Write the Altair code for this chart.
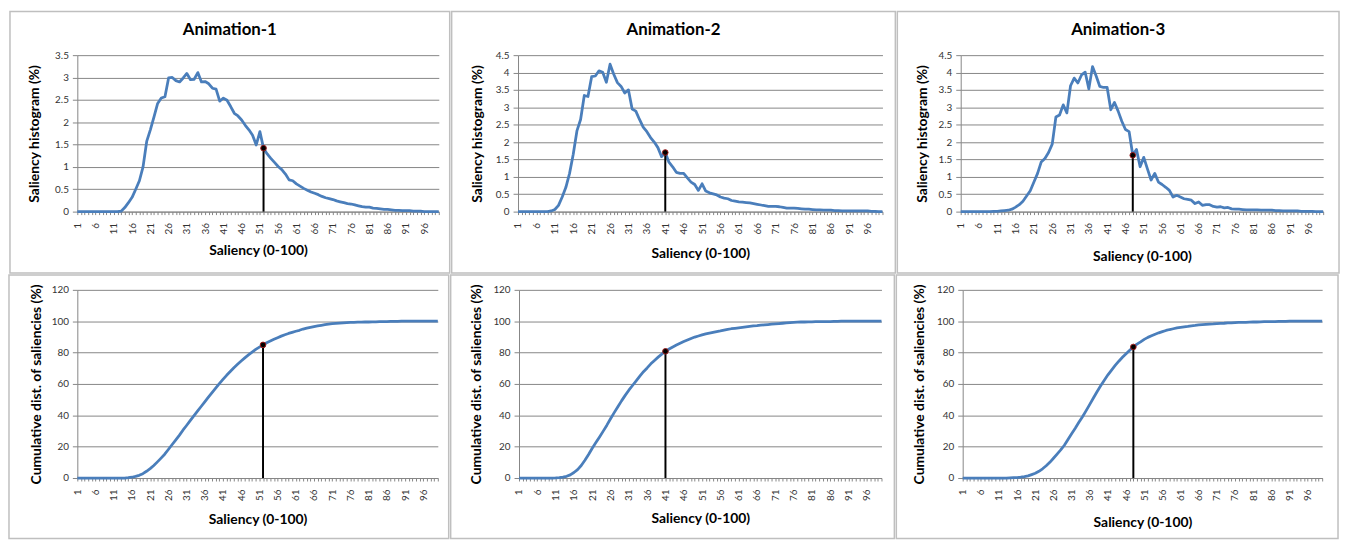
import altair as alt
import pandas as pd

# ---------------- data ----------------
saliency = list(range(1, 101))

hist_1 = [0, 0, 0, 0, 0, 0, 0, 0, 0, 0, 0, 0,
          0.01, 0.09, 0.2, 0.32, 0.5, 0.69, 1.0, 1.57, 1.83, 2.12, 2.42, 2.54, 2.57,
          2.99, 3.0, 2.93, 2.9, 2.99, 3.09, 2.95, 2.96, 3.11, 2.9, 2.91, 2.86, 2.76,
          2.74, 2.47, 2.54, 2.49, 2.35, 2.2, 2.14, 2.05, 1.93, 1.83, 1.71, 1.49, 1.79,
          1.42, 1.29, 1.19, 1.1, 1.01, 0.94, 0.84, 0.71, 0.69, 0.62, 0.57, 0.52, 0.48,
          0.44, 0.41, 0.38, 0.34, 0.31, 0.29, 0.27, 0.24, 0.22, 0.2, 0.18, 0.17, 0.15,
          0.13, 0.11, 0.1, 0.1, 0.08, 0.07, 0.06, 0.05, 0.05, 0.04, 0.03, 0.03, 0.02,
          0.02, 0.02, 0.01, 0.01, 0.01, 0, 0, 0, 0, 0]

cum_1 = [0, 0, 0, 0, 0, 0, 0, 0, 0, 0, 0, 0, 0, 0,
         0.2, 0.5, 1.0, 1.7, 2.8, 4.3, 6.0, 8.0, 10.3, 12.7, 15.2, 18.2, 21.2, 24.2,
         27.2, 30.5, 33.5, 36.6, 39.6, 42.6, 45.6, 48.6, 51.6, 54.5, 57.4, 60.2, 62.9,
         65.5, 67.9, 70.3, 72.5, 74.6, 76.6, 78.5, 80.3, 82.0, 83.5, 84.9, 86.3, 87.4,
         88.5, 89.5, 90.5, 91.4, 92.2, 92.9, 93.6, 94.2, 95.0, 95.6, 96.1, 96.6, 97.0,
         97.4, 97.8, 98.1, 98.4, 98.6, 98.8, 99.0, 99.1, 99.2, 99.3, 99.4, 99.4, 99.5,
         99.5, 99.6, 99.6, 99.7, 99.8, 99.8, 99.9, 99.9, 99.9,
         100, 100, 100, 100, 100, 100, 100, 100, 100, 100, 100]

hist_2 = [0, 0, 0, 0, 0, 0, 0, 0, 0,
          0.02, 0.06, 0.18, 0.42, 0.7, 1.1, 1.65, 2.32, 2.65, 3.34, 3.31, 3.88, 3.9,
          4.05, 4.01, 3.72, 4.24, 3.95, 3.71, 3.6, 3.41, 3.5, 2.95, 2.89, 2.65, 2.43,
          2.3, 2.13, 2.0, 1.84, 1.58, 1.7, 1.42, 1.29, 1.13, 1.1, 1.1, 0.97, 0.85, 0.78,
          0.61, 0.8, 0.59, 0.54, 0.51, 0.48, 0.42, 0.39, 0.37, 0.32, 0.3, 0.28, 0.27,
          0.26, 0.25, 0.23, 0.21, 0.19, 0.17, 0.15, 0.15, 0.15, 0.14, 0.12, 0.1, 0.1,
          0.1, 0.09, 0.08, 0.07, 0.07, 0.06, 0.05, 0.05, 0.04, 0.04, 0.04, 0.03, 0.03,
          0.02, 0.02, 0.02, 0.02, 0.02, 0.02, 0.02, 0.02, 0.01, 0.01, 0, 0]

cum_2 = [0, 0, 0, 0, 0, 0, 0, 0, 0, 0,
         0.1, 0.3, 0.6, 1.1, 2.0, 3.5, 5.4, 8.0, 11.3, 15.0, 19.0, 22.6, 26.2, 29.9,
         33.7, 37.8, 41.7, 45.5, 49.2, 52.7, 56.0, 59.0, 62.0, 65.0, 67.8, 70.2, 72.8,
         75.0, 77.1, 79.0, 80.8, 82.3, 83.6, 84.8, 85.9, 87.0, 88.0, 89.0, 89.9, 90.6,
         91.3, 91.9, 92.4, 92.9, 93.4, 93.8, 94.3, 94.8, 95.2, 95.5, 95.8, 96.1, 96.4,
         96.7, 97.0, 97.2, 97.5, 97.7, 97.9, 98.1, 98.3, 98.5, 98.7, 98.9, 99.1, 99.3,
         99.4, 99.5, 99.5, 99.6, 99.6, 99.7, 99.7, 99.7, 99.8, 99.8, 99.9, 99.9,
         100, 100, 100, 100, 100, 100, 100, 100, 100, 100, 100, 100]

hist_3 = [0, 0, 0, 0, 0, 0, 0, 0, 0,
          0.01, 0.01, 0.02, 0.03, 0.04, 0.07, 0.13, 0.2, 0.3, 0.45, 0.6, 0.85, 1.1,
          1.43, 1.53, 1.7, 1.94, 2.72, 2.78, 3.07, 2.84, 3.62, 3.84, 3.7, 3.93, 4.01,
          3.53, 4.17, 3.9, 3.6, 3.57, 3.57, 2.93, 3.14, 2.89, 2.6, 2.36, 2.3, 1.62, 1.79,
          1.29, 1.56, 1.23, 0.91, 1.1, 0.85, 0.78, 0.7, 0.61, 0.42, 0.47, 0.42, 0.37,
          0.35, 0.33, 0.23, 0.28, 0.18, 0.2, 0.2, 0.15, 0.13, 0.14, 0.11, 0.12, 0.08,
          0.07, 0.07, 0.06, 0.05, 0.05, 0.05, 0.05, 0.04, 0.04, 0.04, 0.04, 0.03, 0.03,
          0.02, 0.02, 0.02, 0.02, 0.02, 0.01, 0.01, 0.01, 0.01, 0, 0, 0]

cum_3 = [0, 0, 0, 0, 0, 0, 0, 0, 0, 0, 0, 0, 0,
         0.1, 0.2, 0.3, 0.5, 0.9, 1.4, 2.2, 3.0, 4.3, 5.9, 7.8, 10.0, 12.6, 15.3, 17.9,
         20.9, 24.6, 28.3, 31.8, 35.5, 39.1, 43.0, 47.0, 51.0, 55.0, 58.8, 62.4, 65.8,
         68.8, 71.8, 74.5, 77.0, 79.3, 81.5, 83.6, 85.4, 86.8, 88.4, 89.7, 90.7, 91.7,
         92.6, 93.4, 94.1, 94.7, 95.2, 95.7, 96.1, 96.4, 96.7, 97.1, 97.3, 97.6, 97.8,
         98.0, 98.2, 98.3, 98.5, 98.6, 98.7, 98.9, 99.0, 99.1, 99.2, 99.3, 99.3, 99.4,
         99.5, 99.5, 99.6, 99.7, 99.7, 99.8, 99.8, 99.9, 99.9, 99.9,
         100, 100, 100, 100, 100, 100, 100, 100, 100, 100]

titles = ["Animation-1", "Animation-2", "Animation-3"]
marker_x = [52, 41, 48]
hist_ticks = [[0, 0.5, 1, 1.5, 2, 2.5, 3, 3.5],
              [0, 0.5, 1, 1.5, 2, 2.5, 3, 3.5, 4, 4.5],
              [0, 0.5, 1, 1.5, 2, 2.5, 3, 3.5, 4, 4.5]]
cum_ticks = [0, 20, 40, 60, 80, 100, 120]
hist_title = "Saliency histogram (%)"
cum_title = "Cumulative dist. of saliencies (%)"
x_title = "Saliency (0-100)"

# ---------------- style ----------------
LINE = "#4A7EBB"
GRID = "#868686"
FRAME = "#BFBFBF"
FONT = "Lato"
LABEL = "#333333"


def panel(values, mx, yticks, ytitle, w, h, left, right, top, bottom,
          xtitle_dy, ytitle_dx, title_text=None):
    df = pd.DataFrame({"s": saliency, "v": values})
    mv = values[saliency.index(mx)]
    mdf = pd.DataFrame({"s": [mx], "v": [mv], "base": [0]})
    one = pd.DataFrame({"a": [0]})

    xscale = alt.Scale(domain=[1, 100], nice=False, zero=False)
    yscale = alt.Scale(domain=[yticks[0], yticks[-1]], nice=False, zero=True)

    xaxis = alt.Axis(
        values=saliency,
        labelExpr="(datum.value - 1) % 5 == 0 ? datum.label : ''",
        labelAngle=-90, labelAlign="right", labelBaseline="middle",
        labelPadding=8, labelOverlap=False, labelFlush=False, labelBound=False,
        labelFontSize=10, labelColor=LABEL, labelFont=FONT,
        tickSize=3, tickColor=GRID, domainColor=GRID, domainWidth=1,
        grid=False,
        title=x_title, titleFont=FONT, titleFontSize=14, titleFontWeight="bold",
        titleColor="#000000", titleY=xtitle_dy, titleBaseline="middle",
    )
    yaxis = alt.Axis(
        values=yticks, format=".1~f",
        labelFontSize=10, labelColor=LABEL, labelFont=FONT, labelPadding=4,
        tickSize=5, tickColor=GRID, domainColor=GRID, domainWidth=1,
        grid=True, gridColor=GRID, gridWidth=1,
        title=ytitle, titleFont=FONT, titleFontSize=14, titleFontWeight="bold",
        titleColor="#000000", titleX=ytitle_dx, titleBaseline="middle",
    )
    X = alt.X("s:Q", scale=xscale, axis=xaxis)
    Y = alt.Y("v:Q", scale=yscale, axis=yaxis)

    frame = alt.Chart(one).mark_rect(
        fill="transparent", stroke=FRAME, strokeWidth=1.5
    ).encode(
        x=alt.value(-left), x2=alt.value(w + right),
        y=alt.value(-top), y2=alt.value(h + bottom),
    )
    line = alt.Chart(df).mark_line(color=LINE, strokeWidth=2.8, strokeJoin="round").encode(x=X, y=Y)
    rule = alt.Chart(mdf).mark_rule(color="#000000", strokeWidth=2).encode(
        x=X, y=Y, y2="base:Q"
    )
    dot = alt.Chart(mdf).mark_point(
        filled=True, fill="#000000", stroke="#9B1B1B", strokeWidth=1,
        size=32, opacity=1, shape="circle"
    ).encode(x=X, y=Y)

    layers = [frame, line, rule, dot]
    if title_text:
        cx = (w + right - left) / 2
        ttl = alt.Chart(one).mark_text(
            text=title_text, font=FONT, fontSize=17, fontWeight="bold",
            align="center", baseline="middle", color="#000000"
        ).encode(x=alt.value(cx), y=alt.value(-25))
        layers.append(ttl)
    return alt.layer(*layers).properties(width=w, height=h)


p1 = panel(hist_1, marker_x[0], hist_ticks[0], hist_title, 365, 158, 68, 11, 44, 62, 39, -43, titles[0])
p2 = panel(hist_2, marker_x[1], hist_ticks[1], hist_title, 368, 158, 67, 13, 44, 62, 42, -41, titles[1])
p3 = panel(hist_3, marker_x[2], hist_ticks[2], hist_title, 366, 158, 64, 16, 44, 62, 45, -39, titles[2])
p4 = panel(cum_1, marker_x[0], cum_ticks, cum_title, 364, 190, 69, 11, 15, 61, 42, -41)
p5 = panel(cum_2, marker_x[1], cum_ticks, cum_title, 366, 190, 69, 13, 15, 61, 41, -43)
p6 = panel(cum_3, marker_x[2], cum_ticks, cum_title, 363, 190, 67, 16, 15, 61, 45, -44)

chart = alt.vconcat(
    alt.hconcat(p1, p2, p3, spacing=0),
    alt.hconcat(p4, p5, p6, spacing=0),
    spacing=0,
).properties(
    padding=0, background="#FFFFFF"
).configure_view(strokeWidth=0)

chart.save("out.html", embed_options={"renderer": "svg", "actions": False})
